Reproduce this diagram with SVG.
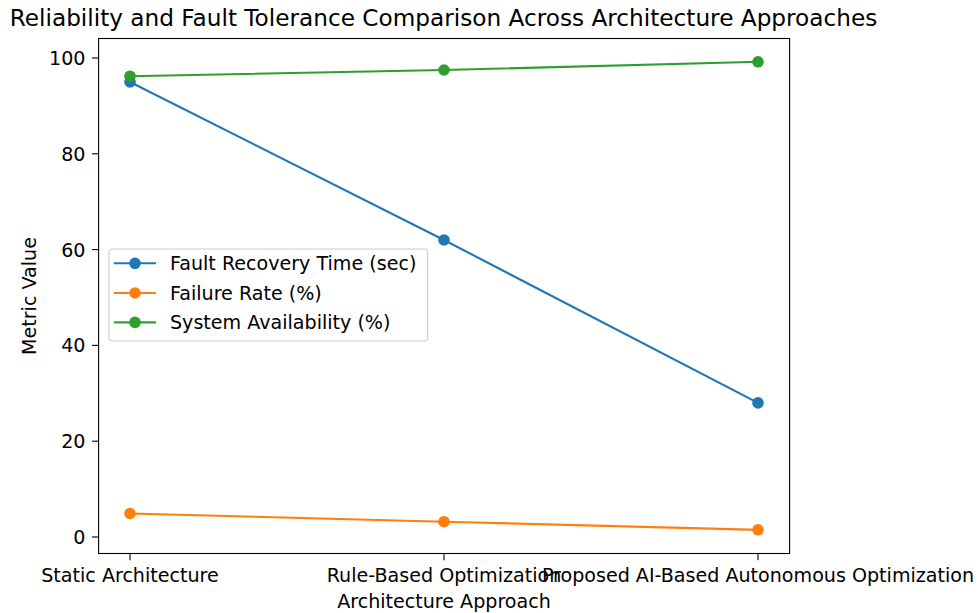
<svg xmlns="http://www.w3.org/2000/svg" width="980" height="613" viewBox="0 0 980 613">
  <style>
    text { font-family: "DejaVu Sans", "Liberation Sans", sans-serif; fill: #000; }
    .tick { font-size: 19.1px; }
    .ylab { text-anchor: end; }
    .xlab { text-anchor: middle; }
    .title { font-size: 23.2px; text-anchor: middle; }
    .spine { fill: none; stroke: #000; stroke-width: 1.1; }
    .tk { stroke: #000; stroke-width: 1.1; }
    .series { fill: none; stroke-width: 2.1; stroke-linecap: square; stroke-linejoin: round; }
    .blue { stroke: #1f77b4; }
    .orange { stroke: #ff7f0e; }
    .green { stroke: #2ca02c; }
    .mb { fill: #1f77b4; }
    .mo { fill: #ff7f0e; }
    .mg { fill: #2ca02c; }
  </style>
  <rect width="980" height="613" fill="#fff"/>

  <!-- title -->
  <text class="title" x="443.5" y="25.5">Reliability and Fault Tolerance Comparison Across Architecture Approaches</text>

  <!-- axes frame -->
  <g id="axes">
    <rect x="98.6" y="38.5" width="691" height="515" fill="#fff"/>
  </g>

  <!-- plotted series -->
  <g id="series">
    <g id="fault-recovery">
      <polyline class="series blue" points="130,82 444,240 758,402.9"/>
      <circle class="mb" cx="130" cy="82" r="5.8"/>
      <circle class="mb" cx="444" cy="240" r="5.8"/>
      <circle class="mb" cx="758" cy="402.9" r="5.8"/>
    </g>
    <g id="failure-rate">
      <polyline class="series orange" points="130,513.5 444,521.7 758,529.8"/>
      <circle class="mo" cx="130" cy="513.5" r="5.8"/>
      <circle class="mo" cx="444" cy="521.7" r="5.8"/>
      <circle class="mo" cx="758" cy="529.8" r="5.8"/>
    </g>
    <g id="availability">
      <polyline class="series green" points="130,76.2 444,70 758,61.8"/>
      <circle class="mg" cx="130" cy="76.2" r="5.8"/>
      <circle class="mg" cx="444" cy="70" r="5.8"/>
      <circle class="mg" cx="758" cy="61.8" r="5.8"/>
    </g>
  </g>

  <rect class="spine" x="98.6" y="38.5" width="691" height="515"/>

  <!-- y axis ticks -->
  <g id="y-axis">
    <line class="tk" x1="92" y1="537" x2="98.6" y2="537"/>
    <line class="tk" x1="92" y1="441.2" x2="98.6" y2="441.2"/>
    <line class="tk" x1="92" y1="345.4" x2="98.6" y2="345.4"/>
    <line class="tk" x1="92" y1="249.6" x2="98.6" y2="249.6"/>
    <line class="tk" x1="92" y1="153.8" x2="98.6" y2="153.8"/>
    <line class="tk" x1="92" y1="58" x2="98.6" y2="58"/>
    <text class="tick ylab" x="85.5" y="543.9">0</text>
    <text class="tick ylab" x="85.5" y="448.1">20</text>
    <text class="tick ylab" x="85.5" y="352.3">40</text>
    <text class="tick ylab" x="85.5" y="256.5">60</text>
    <text class="tick ylab" x="85.5" y="160.7">80</text>
    <text class="tick ylab" x="85.5" y="64.9">100</text>
    <text class="tick" x="36" y="296" text-anchor="middle" transform="rotate(-90 36 296)">Metric Value</text>
  </g>

  <!-- x axis ticks -->
  <g id="x-axis">
    <line class="tk" x1="130" y1="553.5" x2="130" y2="560.2"/>
    <line class="tk" x1="444" y1="553.5" x2="444" y2="560.2"/>
    <line class="tk" x1="758" y1="553.5" x2="758" y2="560.2"/>
    <text class="tick xlab" x="130" y="581.5">Static Architecture</text>
    <text class="tick xlab" x="444" y="581.5">Rule-Based Optimization</text>
    <text class="tick xlab" x="758" y="581.5">Proposed AI-Based Autonomous Optimization</text>
    <text class="tick xlab" x="444" y="607.5">Architecture Approach</text>
  </g>

  <!-- legend -->
  <g id="legend">
    <rect x="109" y="249" width="318.7" height="92" rx="3.5" fill="#fff" fill-opacity="0.8" stroke="#cccccc" stroke-width="1.1"/>
    <line class="series blue" x1="115" y1="263.3" x2="155" y2="263.3"/>
    <circle class="mb" cx="135" cy="263.3" r="5.8"/>
    <text class="tick" x="170" y="270">Fault Recovery Time (sec)</text>
    <line class="series orange" x1="115" y1="293" x2="155" y2="293"/>
    <circle class="mo" cx="135" cy="293" r="5.8"/>
    <text class="tick" x="170" y="299.7">Failure Rate (%)</text>
    <line class="series green" x1="115" y1="322.4" x2="155" y2="322.4"/>
    <circle class="mg" cx="135" cy="322.4" r="5.8"/>
    <text class="tick" x="170" y="329.1">System Availability (%)</text>
  </g>
</svg>
